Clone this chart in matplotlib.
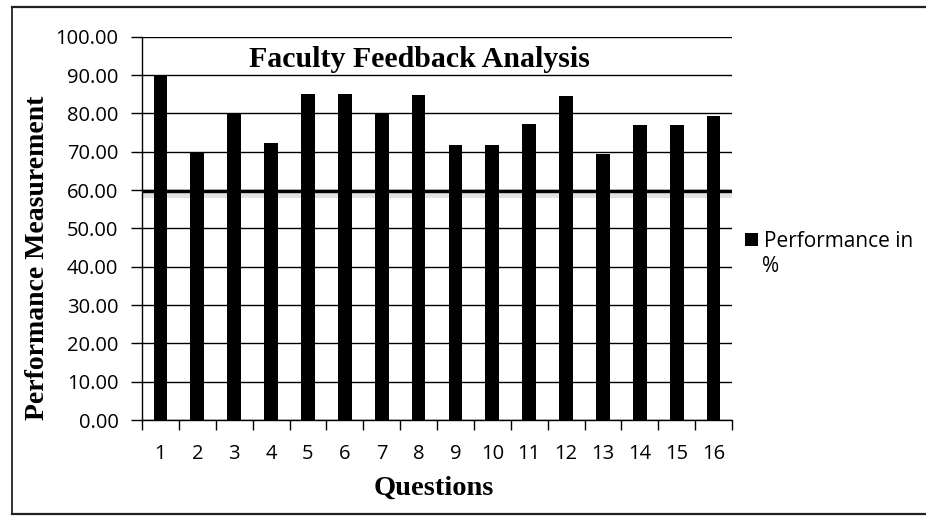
import matplotlib
matplotlib.use("Agg")
import matplotlib.pyplot as plt
import numpy as np
from matplotlib.lines import Line2D

questions = [str(i) for i in range(1, 17)]
performance = [90.0, 70.0, 80.0, 72.3, 85.0, 85.0, 79.8, 84.8,
               71.8, 71.8, 77.2, 84.5, 69.5, 77.0, 77.0, 79.4]
yticks = [0, 10, 20, 30, 40, 50, 60, 70, 80, 90, 100]
threshold = 60

fig = plt.figure(figsize=(9.26, 5.17), dpi=100)
fig.patch.set_facecolor("white")
ax = fig.add_axes([142/926, 1-420/517, (732-142)/926, (420-36.7)/517])

x = np.arange(len(questions))
ax.bar(x, performance, width=0.37, color="black", zorder=3, label="Performance in")

ax.set_xlim(-0.5, len(questions) - 0.5)
ax.set_ylim(0, 100)
ax.set_yticks(yticks)
ax.set_yticklabels([f"{v:.2f}" for v in yticks], fontfamily="Open Sans", fontsize=14.5)
ax.yaxis.grid(True, color="black", linewidth=1.0, zorder=0)
ax.axhline(threshold - 0.3, color="black", linewidth=2.4, zorder=1)
ax.axhspan(threshold - 2.0, threshold - 0.6, color="#c4c4c4", alpha=0.5, linewidth=0, zorder=0)

# Excel-style category axis: ticks at boundaries, labels at centers
ax.set_xticks(np.arange(len(questions) + 1) - 0.5)
ax.set_xticklabels([])
ax.set_xticks(x, minor=True)
ax.set_xticklabels(questions, minor=True, fontfamily="Open Sans", fontsize=14.5)
ax.tick_params(axis="x", which="minor", length=0, pad=17.5)
ax.tick_params(axis="x", which="major", length=7, width=1.0, color="black", direction="out")
ax.tick_params(axis="y", length=8, width=1.0, pad=9, direction="out")

for s in ["top", "right"]:
    ax.spines[s].set_visible(False)
for s in ["left", "bottom"]:
    ax.spines[s].set_color("black")
    ax.spines[s].set_linewidth(1.0)

ax.text(0.47, 0.94, "Faculty Feedback Analysis", transform=ax.transAxes,
        ha="center", va="center", fontfamily="Liberation Serif",
        fontweight="bold", fontsize=21.5)
ax.set_ylabel("Performance Measurement", fontfamily="Liberation Serif",
              fontweight="bold", fontsize=20, va="center")
ax.yaxis.set_label_coords((38 - 142) / 590, (420 - 258) / 383.3)
ax.set_xlabel("Questions", fontfamily="Liberation Serif", fontweight="bold",
              fontsize=20.5, va="center")
ax.xaxis.set_label_coords((434 - 142) / 590, (420 - 488) / 383.3)

leg = fig.legend(loc="center left", bbox_to_anchor=(745/926, 1-241/517),
                 frameon=False, prop={"family": "Open Sans", "size": 15},
                 handlelength=0.6, handleheight=0.6, handletextpad=0.3,
                 borderaxespad=0, borderpad=0)
fig.text(762/926, 1-266/517, "%", fontfamily="Open Sans", fontsize=15,
         ha="left", va="center")

# outer chart border (left, top, bottom)
bx0, by0, by1 = 12/926, 1-514/517, 1-7/517
fig.add_artist(Line2D([bx0, bx0], [by0, by1], color="#222222", lw=1.3, transform=fig.transFigure))
fig.add_artist(Line2D([bx0, 1.0], [by1, by1], color="#222222", lw=1.6, transform=fig.transFigure))
fig.add_artist(Line2D([bx0, 1.0], [by0, by0], color="#222222", lw=1.6, transform=fig.transFigure))

fig.savefig("out.png", dpi=100, facecolor="white")
